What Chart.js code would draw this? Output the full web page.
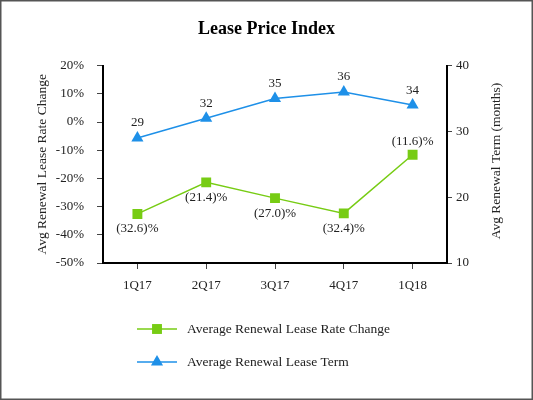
<!DOCTYPE html>
<html lang="en">
<head>
    <meta charset="UTF-8">
    <title>Lease Price Index</title>
    <script src="https://cdn.jsdelivr.net/npm/chart.js"></script>
    <style>
        html, body { margin: 0; padding: 0; background: #fff; }
        #wrap { width: 533px; height: 400px; position: relative; }
    </style>
</head>
<body>
    <div id="wrap">
        <canvas id="leaseChart" width="533" height="400"></canvas>
    </div>
    <script>
        const quarters = ['1Q17', '2Q17', '3Q17', '4Q17', '1Q18'];
        const rateChange = [-32.6, -21.4, -27.0, -32.4, -11.6];
        const leaseTerm = [29, 32, 35, 36, 34];
        const rateTicks = [-50, -40, -30, -20, -10, 0, 10, 20];
        const termTicks = [10, 20, 30, 40];

        const green = '#77cc14';
        const blue = '#1e90e8';
        const serif = '"Liberation Serif", "Times New Roman", serif';

        function fmtPct(v) {
            return v < 0 ? '(' + Math.abs(v).toFixed(1) + ')%' : v.toFixed(1) + '%';
        }

        // value labels, right axis title, legend and outer frame
        const extras = {
            id: 'extras',
            afterDatasetsDraw(chart) {
                const ctx = chart.ctx;
                ctx.save();
                ctx.font = '13px ' + serif;
                ctx.fillStyle = '#222';
                ctx.textAlign = 'center';
                ctx.textBaseline = 'middle';

                chart.getDatasetMeta(0).data.forEach((pt, i) => {
                    const v = rateChange[i];
                    const above = i === rateChange.length - 1;
                    ctx.fillText(fmtPct(v), pt.x, pt.y + (above ? -13 : 15));
                });
                chart.getDatasetMeta(1).data.forEach((pt, i) => {
                    ctx.fillText(String(leaseTerm[i]), pt.x, pt.y - 15);
                });

                // right axis title reads bottom to top
                const area = chart.chartArea;
                ctx.font = '13.5px ' + serif;
                ctx.save();
                ctx.translate(496, 161);
                ctx.rotate(-Math.PI / 2);
                ctx.fillText('Avg Renewal Term (months)', 0, 0);
                ctx.restore();

                // legend
                const rows = [
                    { label: 'Average Renewal Lease Rate Change', color: green, style: 'rect', y: 329 },
                    { label: 'Average Renewal Lease Term', color: blue, style: 'triangle', y: 362 }
                ];
                rows.forEach(r => {
                    ctx.strokeStyle = r.color;
                    ctx.lineWidth = 1.5;
                    ctx.beginPath();
                    ctx.moveTo(137, r.y);
                    ctx.lineTo(177, r.y);
                    ctx.stroke();
                    ctx.fillStyle = r.color;
                    Chart.helpers.drawPoint(ctx, { pointStyle: r.style, radius: 7, borderWidth: 0 }, 157, r.y);
                    ctx.fillStyle = '#222';
                    ctx.textAlign = 'left';
                    ctx.fillText(r.label, 187, r.y);
                });

                ctx.strokeStyle = '#555';
                ctx.lineWidth = 1.5;
                ctx.strokeRect(0.75, 0.75, chart.width - 1.5, chart.height - 1.5);
                ctx.restore();
            }
        };

        const ctx = document.getElementById('leaseChart').getContext('2d');
        new Chart(ctx, {
            type: 'line',
            data: {
                labels: quarters,
                datasets: [{
                    label: 'Average Renewal Lease Rate Change',
                    data: rateChange,
                    yAxisID: 'yRate',
                    borderColor: green,
                    backgroundColor: green,
                    borderWidth: 1.5,
                    pointStyle: 'rect',
                    pointRadius: 7,
                    pointBorderWidth: 0,
                    tension: 0
                }, {
                    label: 'Average Renewal Lease Term',
                    data: leaseTerm,
                    yAxisID: 'yTerm',
                    borderColor: blue,
                    backgroundColor: blue,
                    borderWidth: 1.5,
                    pointStyle: 'triangle',
                    pointRadius: 7,
                    pointBorderWidth: 0,
                    tension: 0
                }]
            },
            options: {
                responsive: false,
                animation: false,
                layout: { padding: { left: 0, right: 0, top: 0, bottom: 0 } },
                plugins: {
                    legend: { display: false },
                    tooltip: { enabled: false },
                    title: {
                        display: true,
                        text: 'Lease Price Index',
                        color: '#000',
                        font: { family: serif, size: 18, weight: 'bold' },
                        padding: { top: 19, bottom: 25 }
                    }
                },
                scales: {
                    x: {
                        offset: true,
                        afterFit(s) { s.height = 137; },
                        grid: { drawOnChartArea: false, drawTicks: true, tickLength: 6, color: '#444', offset: false },
                        border: { display: true, color: '#000', width: 2 },
                        ticks: { color: '#222', padding: 9, font: { family: serif, size: 13 } }
                    },
                    yRate: {
                        position: 'left',
                        min: -50,
                        max: 20,
                        afterFit(s) { s.width = 103; },
                        afterBuildTicks(s) { s.ticks = rateTicks.map(v => ({ value: v })); },
                        grid: { drawOnChartArea: false, drawTicks: true, tickLength: 6, color: '#444' },
                        border: { display: true, color: '#000', width: 2 },
                        ticks: {
                            color: '#222', padding: 13, font: { family: serif, size: 13 },
                            callback: v => v + '%'
                        },
                        title: {
                            display: true,
                            text: 'Avg Renewal Lease Rate Change',
                            color: '#222',
                            font: { family: serif, size: 13.5 },
                            padding: { top: 34, bottom: 0 }
                        }
                    },
                    yTerm: {
                        position: 'right',
                        min: 10,
                        max: 40,
                        afterFit(s) { s.width = 86; },
                        afterBuildTicks(s) { s.ticks = termTicks.map(v => ({ value: v })); },
                        grid: { drawOnChartArea: false, drawTicks: true, tickLength: 5, color: '#444' },
                        border: { display: true, color: '#000', width: 2 },
                        ticks: { color: '#222', padding: 4, font: { family: serif, size: 13 } }
                    }
                }
            },
            plugins: [extras]
        });
    </script>
</body>
</html>
